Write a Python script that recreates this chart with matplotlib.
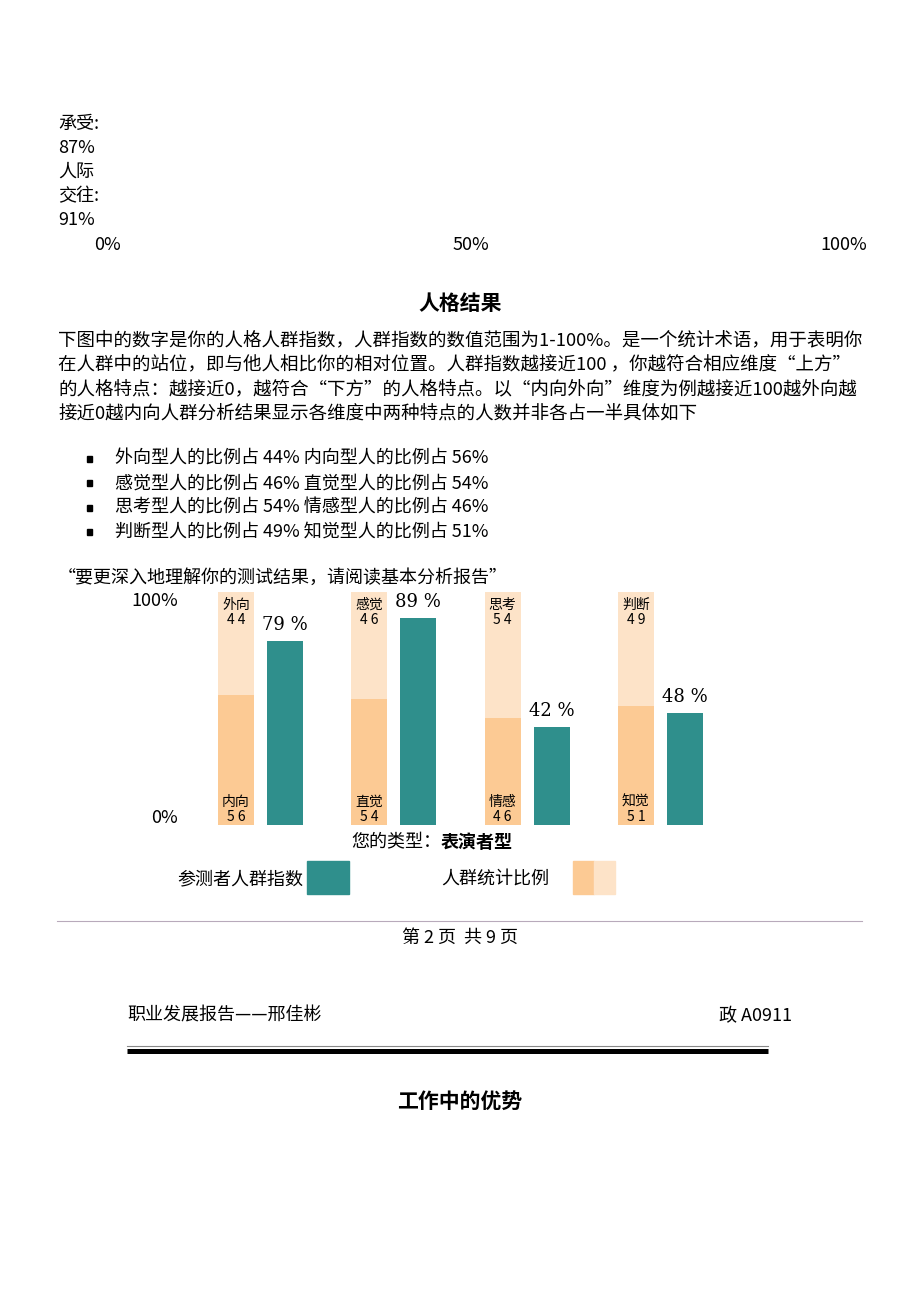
import matplotlib

matplotlib.use("Agg")
import matplotlib.pyplot as plt
from matplotlib.patches import Rectangle

plt.rcParams["font.family"] = ["Noto Sans CJK SC", "DejaVu Sans"]

# 数据
upper_names = ["外向", "感觉", "思考", "判断"]
lower_names = ["内向", "直觉", "情感", "知觉"]
upper_share = [44, 46, 54, 49]
lower_share = [56, 54, 46, 51]
person_index = [79, 89, 42, 48]

prev_labels = ["承受:", "87%", "人际", "交往:", "91%"]
prev_ticks = ["0%", "50%", "100%"]

paragraph_lines = [
    "下图中的数字是你的人格人群指数，人群指数的数值范围为1-100%。是一个统计术语，用于表明你",
    "在人群中的站位，即与他人相比你的相对位置。人群指数越接近100 ，你越符合相应维度“上方”",
    "的人格特点：越接近0，越符合“下方”的人格特点。以“内向外向”维度为例越接近100越外向越",
    "接近0越内向人群分析结果显示各维度中两种特点的人数并非各占一半具体如下",
]

TEAL = "#2f8f8c"
ORANGE_DARK = "#fcca94"
ORANGE_LIGHT = "#fde3c8"

W, H = 920, 1302
fig = plt.figure(figsize=(W / 100, H / 100), dpi=100)

page = fig.add_axes([0, 0, 1, 1])
page.set_xlim(0, W)
page.set_ylim(H, 0)
page.axis("off")

TXT = 13

# 上一张图的残留
for k, label in enumerate(prev_labels):
    page.text(58, 124 + k * 24, label, fontsize=TXT, va="center", ha="left")
for label, x in zip(prev_ticks, [108, 471, 844]):
    page.text(x, 245, label, fontsize=TXT, va="center", ha="center")

# 标题与正文
page.text(460, 303, "人格结果", fontsize=15, fontweight="bold",
          ha="center", va="center")
for k, line in enumerate(paragraph_lines):
    page.text(58, 341 + k * 24.3, line, fontsize=13.3, va="center", ha="left")

for k in range(4):
    bullet = (f"{upper_names[k]}型人的比例占 {upper_share[k]}% "
              f"{lower_names[k]}型人的比例占 {lower_share[k]}%")
    page.add_patch(Rectangle((87, 459 + k * 24.3 - 3), 5, 6, color="black"))
    page.text(115, 459 + k * 24.3, bullet, fontsize=TXT,
              va="center", ha="left")

page.text(58, 578, "“要更深入地理解你的测试结果，请阅读基本分析报告”",
          fontsize=TXT, va="center", ha="left")

page.text(155, 601, "100%", fontsize=TXT, va="center", ha="center")
page.text(165, 818, "0%", fontsize=TXT, va="center", ha="center")

# 柱状图
left_px, right_px = 200, 720
top_px, bottom_px = 592, 825
chart = fig.add_axes([
    left_px / W,
    1 - bottom_px / H,
    (right_px - left_px) / W,
    (bottom_px - top_px) / H,
])
group_px = 133.3
x0_px = 260.5
chart.set_xlim((left_px - x0_px) / group_px, (right_px - x0_px) / group_px)
chart.set_ylim(0, 100)
chart.axis("off")

bar_w = 36 / group_px
off = 24.5 / group_px
xs = list(range(len(upper_names)))
xs_pop = [x - off for x in xs]
xs_me = [x + off for x in xs]

chart.bar(xs_pop, lower_share, width=bar_w, color=ORANGE_DARK)
chart.bar(xs_pop, upper_share, bottom=lower_share, width=bar_w,
          color=ORANGE_LIGHT)
chart.bar(xs_me, person_index, width=bar_w, color=TEAL)

for k, x in enumerate(xs_pop):
    chart.text(x, 97.5, f"{upper_names[k]}\n{' '.join(str(upper_share[k]))}",
               fontsize=10, ha="center", va="top", linespacing=1.1)
    chart.text(x, 0.5, f"{lower_names[k]}\n{' '.join(str(lower_share[k]))}",
               fontsize=10, ha="center", va="bottom", linespacing=1.1)
for x, v in zip(xs_me, person_index):
    chart.annotate(f"{v} %", (x, v), xytext=(0, 5), textcoords="offset points",
                   ha="center", va="bottom", fontsize=TXT,
                   family=["DejaVu Serif"])

# 类型与图例
page.text(441, 842, "您的类型：", fontsize=TXT, ha="right", va="center")
page.text(441, 842, "表演者型", fontsize=TXT, fontweight="bold",
          ha="left", va="center")

page.text(303, 879, "参测者人群指数", fontsize=TXT, ha="right", va="center")
page.add_patch(Rectangle((307, 861), 42, 33, color=TEAL))
page.text(441, 879, "人群统计比例", fontsize=TXT, ha="left", va="center")
page.add_patch(Rectangle((573, 861), 21, 33, color=ORANGE_DARK))
page.add_patch(Rectangle((594, 861), 21, 33, color=ORANGE_LIGHT))

# 页脚与下一页页眉
page.plot([57, 862], [921, 921], color="#b8aabb", linewidth=0.8)
page.text(460, 938, "第 2 页  共 9 页", fontsize=TXT, ha="center", va="center")
page.text(127, 1016, "职业发展报告——邢佳彬", fontsize=TXT, ha="left",
          va="center")
page.text(792, 1016, "政 A0911", fontsize=TXT, ha="right", va="center")
page.plot([127, 768], [1045.5, 1045.5], color="#888888", linewidth=0.8)
page.plot([127, 768], [1050.5, 1050.5], color="black", linewidth=3.6,
          solid_capstyle="butt")
page.text(460, 1101, "工作中的优势", fontsize=15, fontweight="bold",
          ha="center", va="center")

fig.savefig("out.png", dpi=100)
